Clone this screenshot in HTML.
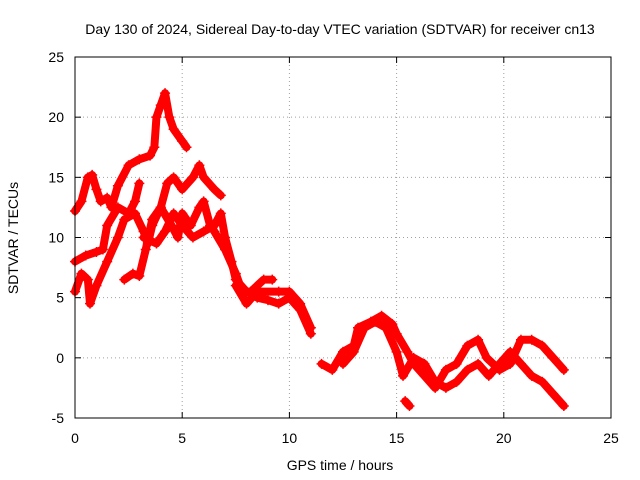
<!DOCTYPE html>
<html><head><meta charset="utf-8"><style>
body{margin:0;background:#fff;}
svg{display:block;font-family:"Liberation Sans",sans-serif;}
</style></head><body>
<svg id="chart" width="640" height="480" viewBox="0 0 640 480">
<rect width="640" height="480" fill="#fff"/>
<text x="340" y="34" font-size="14" text-anchor="middle">Day 130 of 2024, Sidereal Day-to-day VTEC variation (SDTVAR) for receiver cn13</text>
<g id="grid"></g>
<g id="ticks"></g>
<g id="series"></g>
<rect x="75" y="57" width="536" height="361" fill="none" stroke="#000" stroke-width="1"/>
<text x="340" y="470" font-size="14" text-anchor="middle">GPS time / hours</text>
<text transform="translate(18,238) rotate(-90)" font-size="14" text-anchor="middle">SDTVAR / TECUs</text>
</svg>
<script>
const xTicks=[0,5,10,15,20,25];
const yTicks=[-5,0,5,10,15,20,25];
const traceA=[[0,12.2],[0.3,13],[0.6,15],[0.8,15.2],[1.0,14],[1.2,13],[1.5,13.3],[1.7,12.5],[2.0,14.3],[2.5,16],[3.0,16.5],[3.5,16.8],[3.7,17.5],[3.8,20],[4.0,21],[4.2,22],[4.4,20],[4.6,19],[5.0,18],[5.2,17.5]];
const traceB=[[0,8],[0.5,8.5],[1.0,8.8],[1.3,9],[1.5,11],[2.0,12.5],[2.5,12],[2.8,13],[3.0,14.5]];
const traceC=[[0,5.5],[0.3,7],[0.6,6.5],[0.7,4.5],[1.0,6],[1.5,8],[2.0,10],[2.3,11.5],[2.8,12],[3.2,10.5],[3.4,9.5],[3.6,11],[4.0,12.5],[4.3,14.5],[4.6,15],[5.0,14],[5.5,15],[5.8,16],[6.0,15],[6.5,14],[6.8,13.5]];
const traceD=[[2.3,6.5],[2.7,7],[3.0,6.8],[3.3,9],[3.6,11.5],[4.0,12.5],[4.5,11],[4.8,10],[5.0,12],[5.4,11],[5.8,12.5],[6.0,13],[6.3,11],[6.5,10.5],[7,9],[7.5,7],[7.8,5.5],[8.2,5.5],[8.8,6.5],[9.2,6.5]];
const traceE=[[3.2,10],[3.8,9.5],[4.2,10.5],[4.6,12],[5.0,11],[5.5,10],[6.0,10.5],[6.5,11],[6.8,12],[7.0,10],[7.3,8],[7.5,6.5],[8.0,5.5],[8.5,5],[9,4.8],[9.5,4.5],[10,5],[10.5,4],[11,2]];
const traceF=[[7.5,6],[8,4.5],[8.5,5.5],[9.5,5.5],[10,5.5],[10.5,4.5],[11,2.5]];
const traceG=[[11.5,-0.5],[12,-1],[12.5,0.5],[13,1],[13.2,2.5],[13.8,3],[14.3,3.5],[14.8,2.8],[15,2],[15.5,0.5],[15.8,-0.5],[16.3,-1.5],[16.8,-2.5],[17.3,-1],[17.8,-0.5],[18.3,1],[18.8,1.5],[19.2,0],[19.8,-1],[20.3,-0.5],[20.8,1.5],[21.3,1.5],[21.8,1],[22.3,0],[22.8,-1]];
const traceH=[[12.5,-0.5],[13,0.5],[13.5,2.5],[14,3],[14.5,2.5],[15,0.5],[15.3,-1.5],[15.8,0],[16.3,-0.5],[16.8,-2],[17.3,-2.5],[17.8,-2],[18.3,-1],[18.8,-0.5],[19.3,-1.5],[19.8,-0.5],[20.3,0.5],[20.8,-0.5],[21.3,-1.5],[21.8,-2],[22.3,-3],[22.8,-4]];
const traceI=[[15.4,-3.6],[15.6,-4]];
const traces=[traceA,traceB,traceC,traceD,traceE,traceF,traceG,traceH,traceI];

const X0=75,X1=611,Y0=418,Y1=57;
const sx=v=>X0+(v-0)/25*(X1-X0);
const sy=v=>Y0-(v+5)/30*(Y0-Y1);
const NS="http://www.w3.org/2000/svg";
const grid=document.getElementById('grid'),ticks=document.getElementById('ticks'),ser=document.getElementById('series');
function mk(tag,attrs,parent){const e=document.createElementNS(NS,tag);for(const k in attrs)e.setAttribute(k,attrs[k]);parent.appendChild(e);return e;}
xTicks.forEach(t=>{
  const x=sx(t);
  if(t>0&&t<25){const g=mk('line',{x1:x,x2:x,y1:Y1,y2:Y0,stroke:'#a0a0a0','stroke-dasharray':'1,3'},grid);
  
  }
  mk('line',{x1:x,x2:x,y1:Y0,y2:Y0-6,stroke:'#000'},ticks);
  mk('line',{x1:x,x2:x,y1:Y1,y2:Y1+6,stroke:'#000'},ticks);
  const l=mk('text',{x:x,y:443,'font-size':14,'text-anchor':'middle'},ticks);l.textContent=t;
  
  
});
yTicks.forEach(t=>{
  const y=sy(t);
  if(t>-5&&t<25){const g=mk('line',{x1:X0,x2:X1,y1:y,y2:y,stroke:'#a0a0a0','stroke-dasharray':'1,3'},grid);
  
  }
  mk('line',{x1:X0,x2:X0+6,y1:y,y2:y,stroke:'#000'},ticks);
  mk('line',{x1:X1,x2:X1-6,y1:y,y2:y,stroke:'#000'},ticks);
  const l=mk('text',{x:64,y:y+5,'font-size':14,'text-anchor':'end'},ticks);l.textContent=t;
  
  
});
traces.forEach(tr=>{
  const p=mk('polyline',{points:tr.map(d=>sx(d[0])+','+sy(d[1])).join(' '),fill:'none',stroke:'#f00','stroke-width':8,'stroke-linejoin':'round','stroke-linecap':'round'},ser);
  
  
  tr.forEach(d=>{
    const m=mk('path',{d:`M${sx(d[0])-5},${sy(d[1])}h10M${sx(d[0])},${sy(d[1])-5}v10`,stroke:'#f00','stroke-width':1.5},ser);
    
    
  });
});
</script>
</body></html>
